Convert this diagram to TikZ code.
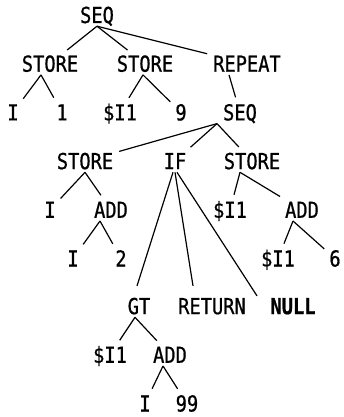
\documentclass[tikz,border=0pt]{standalone}
\usepackage{fontspec}
\newfontfamily\treefont[FakeStretch=0.85, FakeBold=0.8]{DejaVu Sans Mono}
\usepackage{tikz}
\tikzset{
  every node/.style={font=\treefont\fontsize{22}{24}\selectfont,
    inner xsep=2pt, inner ysep=3pt, text height=16pt, text depth=0pt},
  branch/.style={line width=1.2pt, shorten >=4pt}
}

\begin{document}
\begin{tikzpicture}[
  x=1pt, y=1pt,
  grow=down,
  level distance=48.7pt,
  edge from parent/.style={draw=none}
]
\useasboundingbox (0,0) rectangle (343,-417);
\node (seq) at (97,-15) {SEQ} [sibling distance=98pt]
  child[xshift=51pt] { node (st1) {STORE} [sibling distance=49pt]
    child[xshift=-12.5pt] { node (i1) {I} }
    child[xshift=-12.5pt] { node (one) {1} }
  }
  child[xshift=48pt] { node (st2) {STORE} [sibling distance=61pt]
    child[xshift=5.5pt] { node (t1) {\$I1} }
    child[xshift=5.5pt] { node (nine) {9} }
  }
  child[xshift=52pt] { node (rep) {REPEAT}
    child[xshift=-7pt] { node (body) {SEQ} [sibling distance=84pt]
      child[xshift=-71pt] { node (st3) {STORE} [sibling distance=61pt]
        child[xshift=-4.5pt] { node (i2) {I} }
        child[xshift=-4.5pt] { node (add1) {ADD} [sibling distance=48pt]
          child[xshift=-14pt] { node (i3) {I} }
          child[xshift=-14pt] { node (two) {2} }
        }
      }
      child[xshift=-65pt] { node (if) {IF} [sibling distance=77pt, level distance=145pt]
        child[xshift=41pt] { node (gt) {GT} [sibling distance=60pt, level distance=48.7pt]
          child[xshift=1pt] { node (t2) {\$I1} }
          child[xshift=1pt] { node (add2) {ADD} [sibling distance=42pt]
            child[xshift=-4pt] { node (i4) {I} }
            child[xshift=-4pt] { node (nn) {99} }
          }
        }
        child[xshift=37pt] { node (ret) {RETURN} }
        child[xshift=41pt] { node (null) {\bfseries NULL} }
      }
      child[xshift=-72pt] { node (st4) {STORE} [sibling distance=72pt]
        child[xshift=14pt] { node (t3) {\$I1} }
        child[xshift=14pt] { node (add3) {ADD} [sibling distance=57pt]
          child[xshift=4.5pt] { node (t4) {\$I1} }
          child[xshift=4.5pt] { node (six) {6} }
        }
      }
    }
  };

\foreach \a/\b/\dx in {seq/st1/0, seq/st2/0, seq/rep/0,
    st1/i1/-9, st1/one/-9, st2/t1/-2, st2/nine/-2, rep/body/-18,
    body/st3/-23, body/if/-23, body/st4/-23,
    st3/i2/0, st3/add1/0, add1/i3/-11, add1/two/-11,
    gt/t2/-4, gt/add2/-4,
    add2/i4/-7, add2/nn/-7, st4/t3/-12, st4/add3/-12,
    add3/t4/-9, add3/six/-9}
  \draw[branch] ([xshift=\dx pt]\a.south) -- (\b);
\draw[branch, shorten >=0pt] ([xshift=-2pt]if.south) -- ([shift={(-2pt,9pt)}]gt.north);
\draw[branch, shorten >=0pt] (if.south) -- ([shift={(-19pt,9pt)}]ret.north);
\draw[branch, shorten >=0pt] ([xshift=2pt]if.south) -- ([shift={(-36pt,-1pt)}]null.north);
\end{tikzpicture}
\end{document}
